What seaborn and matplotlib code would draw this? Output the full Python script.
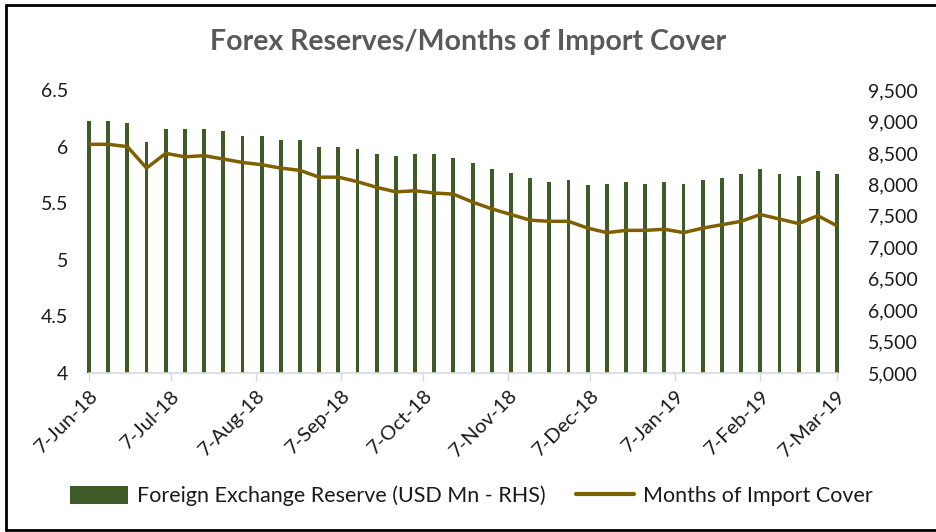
import matplotlib
matplotlib.use("Agg")
import matplotlib.pyplot as plt
import seaborn as sns
import pandas as pd
from matplotlib.ticker import FuncFormatter, FixedLocator
from matplotlib.patches import Patch, Rectangle
from matplotlib.lines import Line2D

# ---------------- data ----------------
dates = pd.date_range("2018-06-07", periods=40, freq="7D")
reserves = [9000, 9000, 8970, 8680, 8885, 8885, 8885, 8855, 8770, 8770,
            8710, 8710, 8595, 8595, 8565, 8477, 8450, 8477, 8477, 8419,
            8334, 8244, 8185, 8100, 8042, 8069, 7984, 8010, 8042, 8010,
            8042, 8010, 8069, 8100, 8159, 8244, 8159, 8128, 8217, 8159]
import_cover = [6.02, 6.02, 6.00, 5.81, 5.94, 5.91, 5.92, 5.89, 5.86, 5.84,
                5.81, 5.79, 5.73, 5.73, 5.69, 5.64, 5.60, 5.61, 5.59, 5.58,
                5.51, 5.45, 5.40, 5.35, 5.34, 5.34, 5.28, 5.24, 5.26, 5.26,
                5.27, 5.24, 5.28, 5.31, 5.34, 5.40, 5.36, 5.32, 5.39, 5.30]
tick_dates = pd.to_datetime(["2018-06-07", "2018-07-07", "2018-08-07", "2018-09-07",
                             "2018-10-07", "2018-11-07", "2018-12-07", "2019-01-07",
                             "2019-02-07", "2019-03-07"])
tick_labels = ["7-Jun-18", "7-Jul-18", "7-Aug-18", "7-Sep-18", "7-Oct-18",
               "7-Nov-18", "7-Dec-18", "7-Jan-19", "7-Feb-19", "7-Mar-19"]
left_ticks = [4, 4.5, 5, 5.5, 6, 6.5]
right_ticks = [5000, 5500, 6000, 6500, 7000, 7500, 8000, 8500, 9000, 9500]

bar_label = "Foreign Exchange Reserve (USD Mn - RHS)"
line_label = "Months of Import Cover"
title = "Forex Reserves/Months of Import Cover"

BAR_COLOR = "#3D5A27"
LINE_COLOR = "#7F6000"
TEXT_COLOR = "#1a1a1a"

# ---------------- figure ----------------
sns.set_theme(style="white")
plt.rcParams['font.family'] = ['Lato', 'DejaVu Sans']

W, H = 937, 532
fig = plt.figure(figsize=(W / 100, H / 100), dpi=100)
fig.patch.set_facecolor("white")

x0, x1, ytop, ybot = 89, 837, 90, 373
ax = fig.add_axes([x0 / W, 1 - ybot / H, (x1 - x0) / W, (ybot - ytop) / H])
ax2 = ax.twinx()

days = (dates - dates[0]).days
df = pd.DataFrame({"day": days, "reserves": reserves, "cover": import_cover})

sns.barplot(data=df, x="day", y="reserves", native_scale=True, width=0.2,
            color=BAR_COLOR, saturation=1, ax=ax2, linewidth=0, edgecolor="none")
# allow edge bars to spill slightly beyond the x-limits, but clip vertically
clip_rect = Rectangle((-0.02, 0), 1.04, 1, transform=ax2.transAxes,
                      facecolor="none", edgecolor="none")
for p in ax2.patches:
    p.set_clip_path(clip_rect)

sns.lineplot(data=df, x="day", y="cover", color=LINE_COLOR, lw=2.5, ax=ax,
             solid_capstyle="butt")

# line above bars
ax.set_zorder(ax2.get_zorder() + 1)
ax.patch.set_visible(False)

tick_days = (tick_dates - dates[0]).days
ax.set_xlim(0, int(days[-1]))
ax2.set_xlim(0, int(days[-1]))
ax.set_ylim(4, 6.5)
ax2.set_ylim(5000, 9500)

ax.xaxis.set_major_locator(FixedLocator(list(tick_days)))
ax.set_xticklabels(tick_labels, rotation=45, ha="right", rotation_mode="anchor",
                   fontsize=14.5, color=TEXT_COLOR)
ax.tick_params(axis="x", which="major", direction="out", length=6, width=1,
               color="#D9D9D9", pad=4, bottom=True)

ax.yaxis.set_major_locator(FixedLocator(left_ticks))
ax.yaxis.set_major_formatter(FuncFormatter(lambda v, p: f"{v:g}"))
ax.tick_params(axis="y", length=0, pad=15, labelsize=14, labelcolor=TEXT_COLOR)

ax2.yaxis.set_major_locator(FixedLocator(right_ticks))
ax2.yaxis.set_major_formatter(FuncFormatter(lambda v, p: f"{int(v):,}"))
ax2.tick_params(axis="y", length=0, pad=22, labelsize=14, labelcolor=TEXT_COLOR)
ax2.tick_params(axis="x", length=0, labelbottom=False)

for a in (ax, ax2):
    for s in a.spines.values():
        s.set_visible(False)
    a.set_xlabel("")
    a.set_ylabel("")
    a.grid(False)
ax.spines["bottom"].set_visible(True)
ax.spines["bottom"].set_color("#D9D9D9")
ax.spines["bottom"].set_linewidth(1.2)

fig.text(0.5, 1 - 42 / H, title, ha="center", va="center", fontsize=20.5,
         fontweight="bold", color="#595959")

handles = [Patch(facecolor=BAR_COLOR, edgecolor="none"),
           Line2D([0], [0], color=LINE_COLOR, lw=3)]
fig.legend(handles, [bar_label, line_label], loc="center",
           bbox_to_anchor=(0.503, 1 - 496 / H), ncol=2, frameon=False,
           fontsize=15.5, handlelength=2.7, handleheight=0.9,
           handletextpad=0.4, columnspacing=1.4, labelcolor=TEXT_COLOR)

# outer frame (left, top, bottom)
lw = 2
fig.add_artist(Line2D([6 / W, 6 / W], [2 / H, 1 - 5 / H], transform=fig.transFigure,
                      color="black", lw=lw))
fig.add_artist(Line2D([6 / W, 1], [1 - 5 / H, 1 - 5 / H], transform=fig.transFigure,
                      color="black", lw=lw))
fig.add_artist(Line2D([6 / W, 1], [2 / H, 2 / H], transform=fig.transFigure,
                      color="black", lw=lw))

fig.savefig("out.png", dpi=100, facecolor="white")
